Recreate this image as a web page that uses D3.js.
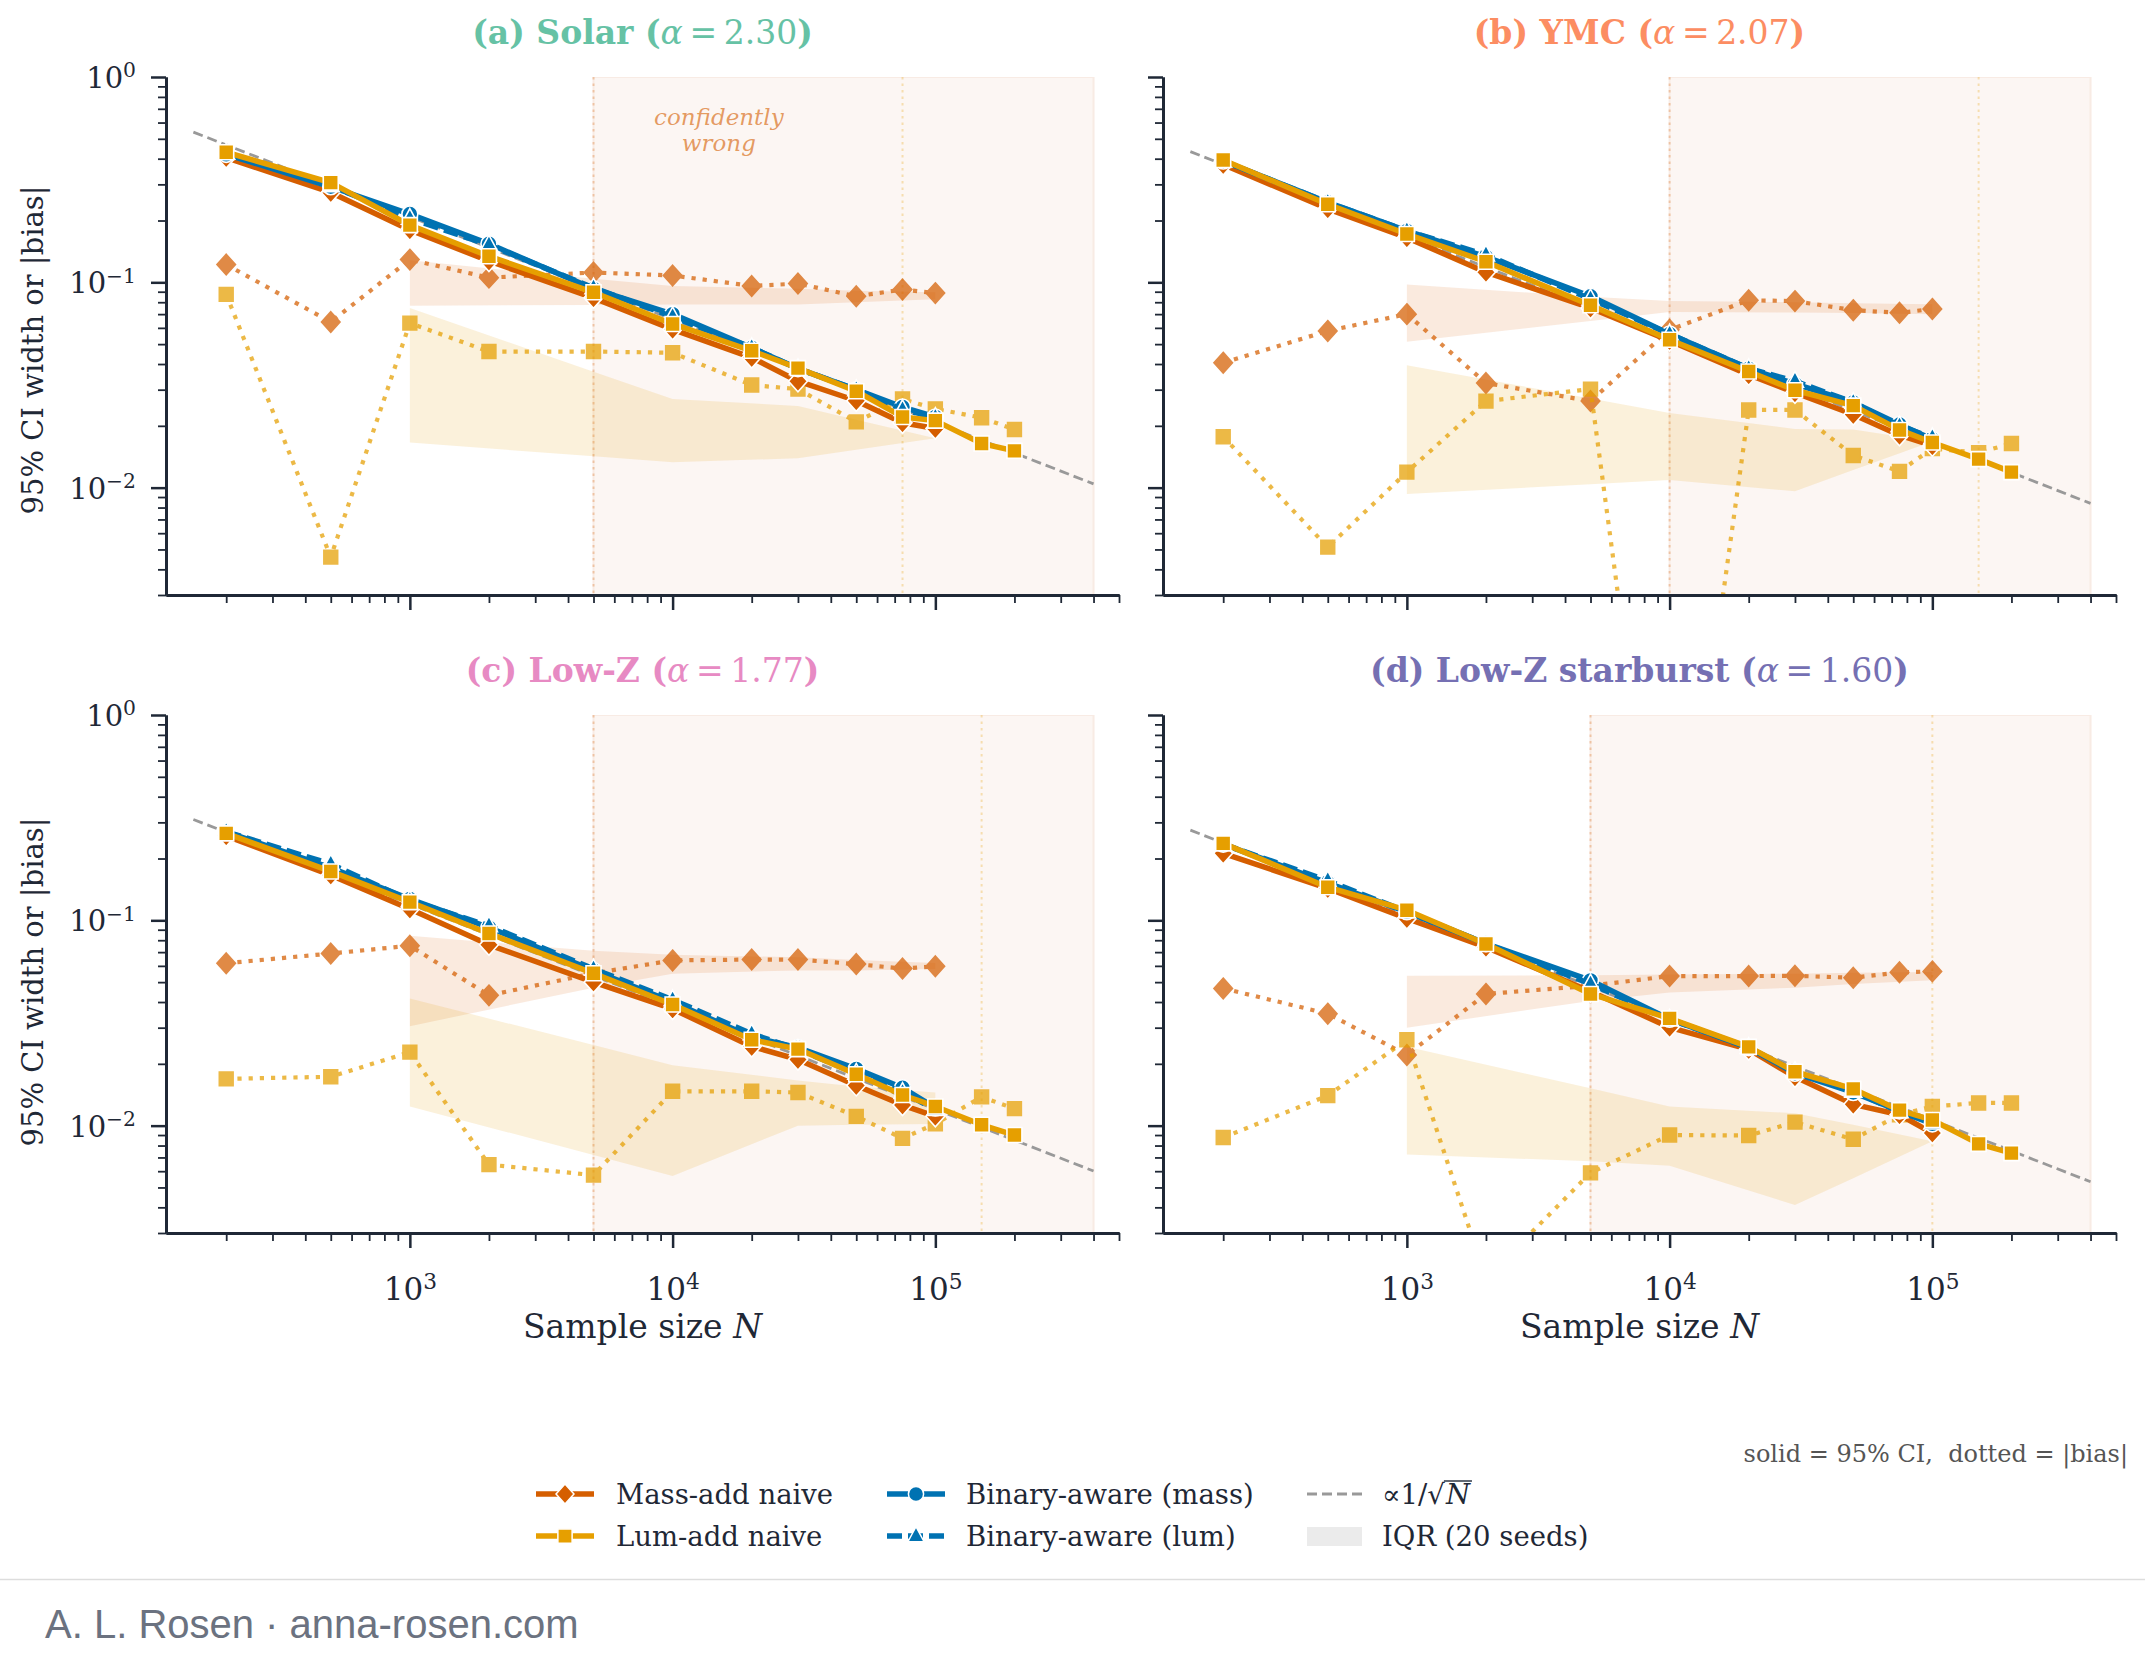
<!DOCTYPE html>
<html><head><meta charset="utf-8">
<script src="https://cdn.jsdelivr.net/npm/d3@7"></script>
<style>
body{margin:0;background:#fff;}
svg{display:block;}
</style></head>
<body><div id="chart"></div>
<script>
// ---------------- data ----------------
const N_ALL   = [200,500,1000,2000,5000,10000,20000,30000,50000,75000,100000,150000,200000];
const N_SHORT = [200,500,1000,2000,5000,10000,20000,30000,50000,75000,100000];
const IQR_N   = [1000,5000,10000,30000,50000,100000];
const REF_N   = [150,400000];

const panelNames  = ["(a) Solar","(b) YMC","(c) Low-Z","(d) Low-Z starburst"];
const panelAlphas = ["2.30","2.07","1.77","1.60"];
const panelColors = ["#66c2a5","#fc8d62","#e78ac3","#7570b3"];
const massCross   = [5000,10000,5000,5000];
const lumCross    = [75000,150000,150000,100000];
const SHADE_END   = 400000;

// (a) Solar
const solarMassCI    = [0.405,0.274,0.180,0.127,0.084,0.059,0.043,0.033,0.0265,0.0207,0.0194];
const solarLumCI     = [0.430,0.306,0.190,0.134,0.0894,0.0627,0.0464,0.0382,0.0295,0.0221,0.0212,0.0164,0.0151];
const solarBinMassCI = [0.420,0.292,0.215,0.154,0.093,0.070,0.048,0.038,0.030,0.0247,0.0221];
const solarBinLumCI  = [0.425,0.295,0.205,0.152,0.094,0.068,0.048,0.038,0.030,0.024,0.022];
const solarMassBias  = [0.122,0.0641,0.129,0.1054,0.1116,0.108,0.096,0.0986,0.0855,0.0922,0.0886];
const solarLumBias   = [0.0874,0.00459,0.0633,0.046,0.046,0.0454,0.0316,0.0302,0.0209,0.027,0.0242,0.0219,0.0192];
const solarMassIqrLo = [0.077,0.0775,0.078,0.078,0.080,0.0826];
const solarMassIqrHi = [0.128,0.104,0.096,0.093,0.091,0.0895];
const solarLumIqrLo  = [0.0166,0.0142,0.0133,0.0139,0.0153,0.0174];
const solarLumIqrHi  = [0.075,0.0367,0.027,0.025,0.0214,0.0174];
const solarRef       = [0.539,0.01043];

// (b) YMC
const ymcMassCI    = [0.375,0.228,0.165,0.112,0.075,0.052,0.0355,0.029,0.0227,0.018,0.016];
const ymcLumCI     = [0.394,0.240,0.172,0.126,0.0773,0.0525,0.0368,0.0298,0.0251,0.0191,0.0166,0.01377,0.0119];
const ymcBinMassCI = [0.390,0.245,0.178,0.133,0.0855,0.056,0.038,0.032,0.026,0.0203,0.0172];
const ymcBinLumCI  = [0.390,0.245,0.178,0.136,0.083,0.056,0.038,0.033,0.026,0.020,0.0175];
const ymcMassBias  = [0.0406,0.058,0.070,0.0323,0.0264,0.0587,0.0818,0.081,0.0732,0.071,0.0742];
const ymcLumBias   = [0.0177,0.00513,0.0119,0.0264,0.0302,0.00004,0.0239,0.0239,0.01435,0.012,0.0155,0.0148,0.0164];
const ymcMassIqrLo = [0.0514,0.0648,0.0716,0.0712,0.0708,0.070];
const ymcMassIqrHi = [0.0977,0.085,0.081,0.080,0.079,0.0783];
const ymcLumIqrLo  = [0.0093,0.0104,0.0109,0.0096,0.0122,0.0168];
const ymcLumIqrHi  = [0.0394,0.0272,0.0231,0.0193,0.0192,0.0168];
const ymcRef       = [0.433,0.00838];

// (c) Low-Z
const lowzMassCI    = [0.258,0.166,0.1135,0.076,0.050,0.037,0.0243,0.021,0.0157,0.0126,0.0111];
const lowzLumCI     = [0.265,0.173,0.1226,0.0863,0.0552,0.0389,0.0262,0.0236,0.0178,0.0141,0.0124,0.0101,0.0090];
const lowzBinMassCI = [0.270,0.180,0.127,0.0923,0.057,0.040,0.027,0.024,0.0189,0.0153,0.0122];
const lowzBinLumCI  = [0.270,0.188,0.125,0.094,0.058,0.041,0.028,0.0235,0.018,0.0145,0.012];
const lowzMassBias  = [0.0618,0.0689,0.0752,0.0431,0.0552,0.0638,0.0644,0.0644,0.0612,0.0582,0.0597];
const lowzLumBias   = [0.0169,0.0173,0.0228,0.00646,0.00574,0.0147,0.0147,0.0145,0.0111,0.00867,0.0102,0.0138,0.0121];
const lowzMassIqrLo = [0.0305,0.047,0.055,0.057,0.057,0.058];
const lowzMassIqrHi = [0.084,0.071,0.068,0.066,0.064,0.062];
const lowzLumIqrLo  = [0.0124,0.0072,0.00568,0.0100,0.0101,0.0102];
const lowzLumIqrHi  = [0.0416,0.0247,0.0197,0.0166,0.0155,0.0145];
const lowzRef       = [0.310,0.00601];

// (d) Low-Z starburst
const sbMassCI    = [0.212,0.143,0.102,0.074,0.045,0.0301,0.0235,0.0173,0.0127,0.0113,0.0092];
const sbLumCI     = [0.237,0.145,0.112,0.0767,0.0438,0.0333,0.0242,0.0183,0.0151,0.0119,0.01065,0.00815,0.00735];
const sbBinMassCI = [0.235,0.152,0.110,0.077,0.051,0.033,0.024,0.018,0.0145,0.0118,0.0102];
const sbBinLumCI  = [0.235,0.156,0.110,0.077,0.049,0.033,0.024,0.0183,0.0147,0.0117,0.0103];
const sbMassBias  = [0.0466,0.0351,0.0221,0.0438,0.048,0.0535,0.0535,0.0537,0.0525,0.0558,0.0564];
const sbLumBias   = [0.00875,0.014,0.0262,0.0018,0.00589,0.009,0.00895,0.0104,0.00858,0.0113,0.0124,0.0129,0.0129];
const sbMassIqrLo = [0.030,0.0405,0.0445,0.047,0.049,0.0511];
const sbMassIqrHi = [0.0537,0.054,0.0545,0.055,0.0555,0.056];
const sbLumIqrLo  = [0.00724,0.0067,0.00637,0.00411,0.00555,0.0084];
const sbLumIqrHi  = [0.0242,0.0152,0.0124,0.0115,0.0101,0.0084];
const sbRef       = [0.275,0.00533];

const Y_MAJOR = [1,0.1,0.01];
const Y_MINOR = [0.003,0.004,0.005,0.006,0.007,0.008,0.009,0.02,0.03,0.04,0.05,0.06,0.07,0.08,0.09,0.2,0.3,0.4,0.5,0.6,0.7,0.8,0.9];
const X_MAJOR = [1000,10000,100000];
const X_MINOR = [200,300,400,500,600,700,800,900,2000,3000,4000,5000,6000,7000,8000,9000,20000,30000,40000,50000,60000,70000,80000,90000,200000,300000,400000,500000];
const Y_EXP = {1:"0",0.1:"\u22121",0.01:"\u22122"};
const X_EXP = {1000:"3",10000:"4",100000:"5"};

const PANELS = [
 {massCI:solarMassCI,lumCI:solarLumCI,binMass:solarBinMassCI,binLum:solarBinLumCI,massBias:solarMassBias,lumBias:solarLumBias,mLo:solarMassIqrLo,mHi:solarMassIqrHi,lLo:solarLumIqrLo,lHi:solarLumIqrHi,ref:solarRef},
 {massCI:ymcMassCI,lumCI:ymcLumCI,binMass:ymcBinMassCI,binLum:ymcBinLumCI,massBias:ymcMassBias,lumBias:ymcLumBias,mLo:ymcMassIqrLo,mHi:ymcMassIqrHi,lLo:ymcLumIqrLo,lHi:ymcLumIqrHi,ref:ymcRef},
 {massCI:lowzMassCI,lumCI:lowzLumCI,binMass:lowzBinMassCI,binLum:lowzBinLumCI,massBias:lowzMassBias,lumBias:lowzLumBias,mLo:lowzMassIqrLo,mHi:lowzMassIqrHi,lLo:lowzLumIqrLo,lHi:lowzLumIqrHi,ref:lowzRef},
 {massCI:sbMassCI,lumCI:sbLumCI,binMass:sbBinMassCI,binLum:sbBinLumCI,massBias:sbMassBias,lumBias:sbLumBias,mLo:sbMassIqrLo,mHi:sbMassIqrHi,lLo:sbLumIqrLo,lHi:sbLumIqrHi,ref:sbRef}
];

// ---------------- layout / style ----------------
const W = 2145, H = 1666;
const COLS = [[166,1119],[1163,2116]];
const ROWS = [[77,595],[715,1233]];
const X_DOMAIN = [118,5e5];
const Y_DOMAIN = [0.003,1];
const C_MASS = "#d55e00", C_LUM = "#e69f00", C_BIN = "#0072b2", C_REF = "#999999", INK = "#1f2836";
const SERIF = "'DejaVu Serif', serif";

function shapePath(kind, s){
  switch(kind){
    case "diamond": return `M0,${-s}L${s*0.9},0L0,${s}L${-s*0.9},0Z`;
    case "square": return `M${-s},${-s}H${s}V${s}H${-s}Z`;
    case "circle": return `M${s},0A${s},${s} 0 1,1 ${-s},0A${s},${s} 0 1,1 ${s},0Z`;
    case "triangle": return `M0,${-s*1.15}L${s},${s*0.7}L${-s},${s*0.7}Z`;
  }
}
const MSIZE = {diamond:10.5, square:7.5, circle:8, triangle:8.5};

const svg = d3.select("#chart").append("svg").attr("width",W).attr("height",H)
  .style("background","#fff");
svg.append("rect").attr("width",W).attr("height",H).attr("fill","#fff");
const defs = svg.append("defs");

PANELS.forEach((p,i)=>{
  const col = i%2, row = Math.floor(i/2);
  const [x0,x1] = COLS[col], [y0,y1] = ROWS[row];
  const x = d3.scaleLog().domain(X_DOMAIN).range([x0,x1]);
  const y = d3.scaleLog().domain(Y_DOMAIN).range([y1,y0]);
  const clipId = "clip"+i;
  defs.append("clipPath").attr("id",clipId).append("rect")
    .attr("x",x0).attr("y",y0).attr("width",x1-x0).attr("height",y1-y0);
  const g = svg.append("g");
  const plot = g.append("g").attr("clip-path",`url(#${clipId})`);

  // confidently-wrong region
  plot.append("rect").attr("x",x(massCross[i])).attr("y",y0)
    .attr("width",x(SHADE_END)-x(massCross[i])).attr("height",y1-y0)
    .attr("fill","#fcf6f3")
    .attr("stroke","#f8ebe4").attr("stroke-width",2);
  // crossover lines
  [[massCross[i],C_MASS],[lumCross[i],C_LUM]].forEach(([n,c])=>{
    plot.append("line").attr("x1",x(n)).attr("x2",x(n)).attr("y1",y0).attr("y2",y1)
      .attr("stroke",c).attr("stroke-opacity",0.28).attr("stroke-width",2).attr("stroke-dasharray","2.5 4");
  });

  // IQR bands
  const area = d3.area().x(d=>x(d.n)).y0(d=>y(d.lo)).y1(d=>y(d.hi));
  plot.append("path").attr("d",area(IQR_N.map((n,k)=>({n,lo:p.mLo[k],hi:p.mHi[k]}))))
    .attr("fill",C_MASS).attr("fill-opacity",0.13);
  plot.append("path").attr("d",area(IQR_N.map((n,k)=>({n,lo:p.lLo[k],hi:p.lHi[k]}))))
    .attr("fill",C_LUM).attr("fill-opacity",0.14);

  // reference 1/sqrt(N)
  const line = d3.line().x(d=>x(d.n)).y(d=>y(d.v));
  plot.append("path").attr("d",line(REF_N.map((n,k)=>({n,v:p.ref[k]}))))
    .attr("fill","none").attr("stroke",C_REF).attr("stroke-width",2.8).attr("stroke-dasharray","10 5");

  function series(ns, vals, color, marker, opts){
    const pts = ns.map((n,k)=>({n,v:vals[k]}));
    const sg = plot.append("g").attr("opacity",opts.opacity||1);
    sg.append("path").attr("d",line(pts)).attr("fill","none").attr("stroke",color)
      .attr("stroke-width",opts.width).attr("stroke-dasharray",opts.dash||null)
      .attr("stroke-linejoin","round");
    sg.selectAll("path.m").data(pts).join("path").attr("class","m")
      .attr("d",shapePath(marker,MSIZE[marker]*(opts.ms||1)))
      .attr("transform",d=>`translate(${x(d.n)},${y(d.v)})`)
      .attr("fill",color).attr("stroke",opts.edge||"#fff").attr("stroke-width",1.6);
  }
  // bias (dotted)
  series(N_SHORT,p.massBias,C_MASS,"diamond",{width:4.2,dash:"4.2 7",opacity:0.72,edge:C_MASS,ms:0.98});
  series(N_ALL,p.lumBias,C_LUM,"square",{width:4.2,dash:"4.2 7",opacity:0.72,edge:C_LUM,ms:0.92});
  // CI (solid)
  series(N_SHORT,p.massCI,C_MASS,"diamond",{width:5.5});
  series(N_SHORT,p.binMass,C_BIN,"circle",{width:5.5});
  series(N_SHORT,p.binLum,C_BIN,"triangle",{width:5.5,dash:"15 6"});
  series(N_ALL,p.lumCI,C_LUM,"square",{width:5.5});

  if(i===0){
    const t = g.append("text").attr("x",x(15000)).attr("y",y(0.64)+8)
      .attr("text-anchor","middle").attr("font-family",SERIF).attr("font-style","italic")
      .attr("font-size",23).attr("fill",C_MASS).attr("fill-opacity",0.62);
    t.append("tspan").attr("x",x(15000)).text("confidently");
    t.append("tspan").attr("x",x(15000)).attr("dy",26).text("wrong");
  }

  // axes
  const styleAxis = (ag, fs)=>{
    ag.select(".domain").attr("stroke",INK).attr("stroke-width",3);
    ag.selectAll(".tick line").attr("stroke",INK);
    ag.selectAll(".tick text").attr("fill",INK);
    ag.attr("font-family",SERIF).attr("font-size",fs||29);
  };
  const yMinor = g.append("g").attr("transform",`translate(${x0},0)`)
    .call(d3.axisLeft(y).tickValues(Y_MINOR).tickSize(8).tickSizeOuter(0).tickFormat(""));
  styleAxis(yMinor); yMinor.selectAll(".tick line").attr("stroke-width",1.8);
  const yMajor = g.append("g").attr("transform",`translate(${x0},0)`)
    .call(d3.axisLeft(y).tickValues(Y_MAJOR).tickSize(15).tickSizeOuter(0).tickPadding(15)
      .tickFormat(col===0 ? (d=>"10") : ""));
  styleAxis(yMajor, 29); yMajor.selectAll(".tick line").attr("stroke-width",2.5);
  if(col===0){
    yMajor.selectAll(".tick text").each(function(d){
      const t = d3.select(this).text(null).attr("dy","0.36em");
      t.append("tspan").text("10");
      t.append("tspan").attr("dy","-0.52em").attr("font-size","0.7em").text(Y_EXP[d]);
    });
  }
  const xMinor = g.append("g").attr("transform",`translate(0,${y1})`)
    .call(d3.axisBottom(x).tickValues(X_MINOR).tickSize(8).tickSizeOuter(0).tickFormat(""));
  styleAxis(xMinor); xMinor.selectAll(".tick line").attr("stroke-width",1.8);
  const xMajor = g.append("g").attr("transform",`translate(0,${y1})`)
    .call(d3.axisBottom(x).tickValues(X_MAJOR).tickSize(15).tickSizeOuter(0).tickPadding(30)
      .tickFormat(row===1 ? (d=>"10") : ""));
  styleAxis(xMajor, 31); xMajor.selectAll(".tick line").attr("stroke-width",2.5);
  if(row===1){
    xMajor.selectAll(".tick text").each(function(d){
      const t = d3.select(this).text(null);
      t.append("tspan").text("10");
      t.append("tspan").attr("dy","-0.52em").attr("font-size","0.7em").text(X_EXP[d]);
    });
    g.append("text").attr("x",(x0+x1)/2).attr("y",1338).attr("text-anchor","middle")
      .attr("font-family",SERIF).attr("font-size",33).attr("fill",INK)
      .call(t=>{t.append("tspan").text("Sample size ");
                t.append("tspan").attr("font-style","italic").text("N");});
  }
  if(col===0){
    g.append("text").attr("transform",`translate(43,${(y0+y1)/2 + (row===0?14:8)}) rotate(-90)`)
      .attr("text-anchor","middle").attr("font-family",SERIF).attr("font-size",29).attr("fill",INK)
      .text("95% CI width or |bias|");
  }
  // title
  const tt = g.append("text").attr("x",(x0+x1)/2).attr("y",row===0?44:682).attr("text-anchor","middle")
    .attr("font-family",SERIF).attr("font-size",33).attr("fill",panelColors[i]);
  tt.append("tspan").attr("font-weight","bold").text(panelNames[i]+" (");
  tt.append("tspan").attr("font-style","italic").text("\u03b1");
  tt.append("tspan").text("\u2009=\u2009"+panelAlphas[i]);
  tt.append("tspan").attr("font-weight","bold").text(")");
});

// ---------------- legend ----------------
const LEG_X = [536,887,1307], LEG_TX = [616,966,1382], LEG_Y = [1494,1536];
const legendItems = [
  {label:"Mass-add naive",color:C_MASS,marker:"diamond",c:0,r:0},
  {label:"Lum-add naive",color:C_LUM,marker:"square",c:0,r:1},
  {label:"Binary-aware (mass)",color:C_BIN,marker:"circle",c:1,r:0},
  {label:"Binary-aware (lum)",color:C_BIN,marker:"triangle",dash:"15 6",c:1,r:1},
  {label:"ref",ref:true,c:2,r:0},
  {label:"IQR (20 seeds)",patch:true,c:2,r:1}
];
const lg = svg.append("g").attr("font-family",SERIF).attr("font-size",27.5).attr("fill",INK);
legendItems.forEach(it=>{
  const hx = LEG_X[it.c], hy = LEG_Y[it.r];
  if(it.patch){
    lg.append("rect").attr("x",hx).attr("y",hy-9).attr("width",55).attr("height",19).attr("fill","#ebebeb");
  } else if(it.ref){
    lg.append("line").attr("x1",hx).attr("x2",hx+56).attr("y1",hy).attr("y2",hy)
      .attr("stroke",C_REF).attr("stroke-width",2.8).attr("stroke-dasharray","10 5");
  } else {
    lg.append("line").attr("x1",hx).attr("x2",hx+58).attr("y1",hy).attr("y2",hy)
      .attr("stroke",it.color).attr("stroke-width",5.5).attr("stroke-dasharray",it.dash||null);
    lg.append("path").attr("d",shapePath(it.marker,MSIZE[it.marker]*0.95))
      .attr("transform",`translate(${hx+29},${hy})`).attr("fill",it.color).attr("stroke","#fff").attr("stroke-width",1.5);
  }
  if(it.ref){
    const t1 = lg.append("text").attr("x",LEG_TX[it.c]).attr("y",hy+10).text("\u221d1/\u221a");
    const w1 = t1.node().getComputedTextLength();
    const t2 = lg.append("text").attr("x",LEG_TX[it.c]+w1+1).attr("y",hy+10).attr("font-style","italic").text("N");
    const w2 = t2.node().getComputedTextLength();
    lg.append("line").attr("x1",LEG_TX[it.c]+w1-1).attr("x2",LEG_TX[it.c]+w1+w2+3)
      .attr("y1",hy-13).attr("y2",hy-13).attr("stroke",INK).attr("stroke-width",1.4);
  } else {
    lg.append("text").attr("x",LEG_TX[it.c]).attr("y",hy+10).text(it.label);
  }
});

svg.append("text").attr("x",2128).attr("y",1462).attr("text-anchor","end")
  .attr("font-family",SERIF).attr("font-size",24).attr("fill","#555")
  .text("solid = 95% CI,\u00a0\u00a0dotted = |bias|");

svg.append("line").attr("x1",0).attr("x2",W).attr("y1",1579.5).attr("y2",1579.5)
  .attr("stroke","#dddddd").attr("stroke-width",1.5);
svg.append("text").attr("x",45).attr("y",1638).attr("font-family","'Liberation Sans', Arial, sans-serif")
  .attr("font-size",40).attr("fill","#6b7280").text("A. L. Rosen \u00b7 anna-rosen.com");
</script>
</body></html>
